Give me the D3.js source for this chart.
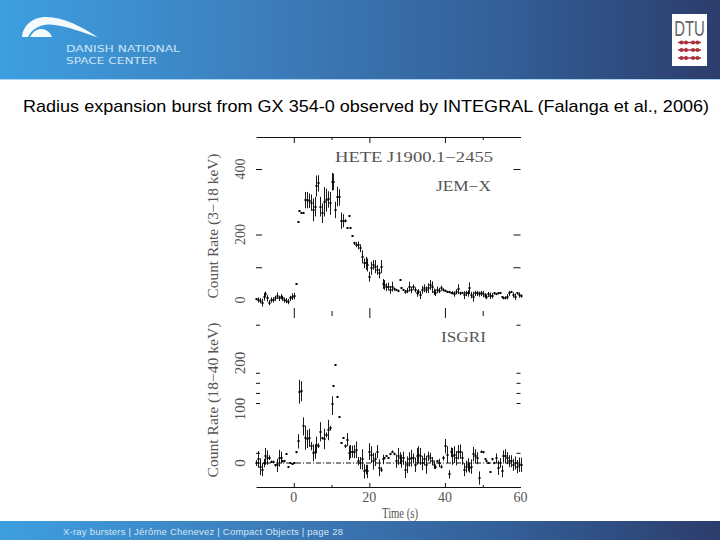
<!DOCTYPE html>
<html><head><meta charset="utf-8">
<script src="https://cdn.jsdelivr.net/npm/d3@7"></script>
<style>html,body{margin:0;padding:0;background:#fff}svg{display:block}</style>
</head><body><svg id="c" width="720" height="540"></svg>
<script>
const slideTitle = "Radius expansion burst from GX 354-0 observed by INTEGRAL (Falanga et al., 2006)";
const footerText = "X-ray bursters | Jérôme Chenevez | Compact Objects | page 28";
const logoLines = ["DANISH NATIONAL", "SPACE CENTER"];
const timeBins = [-10,-9.5,-9,-8.5,-8,-7.5,-7,-6.5,-6,-5.5,-5,-4.5,-4,-3.5,-3,-2.5,-2,-1.5,-1,-0.5,0,
0.5,1,1.5,2,2.5,3,3.5,4,4.5,5,5.5,6,6.5,7,7.5,8,8.5,9,9.5,10,10.5,11,11.5,12,12.5,13,13.5,14,14.5,15,15.5,16,16.5,17,17.5,18,18.5,19,19.5,20,
20.5,21,21.5,22,22.5,23,23.5,24,24.5,25,25.5,26,26.5,27,27.5,28,28.5,29,29.5,30,30.5,31,31.5,32,32.5,33,33.5,34,34.5,35,35.5,36,36.5,37,37.5,38,38.5,39,39.5,40,
40.5,41,41.5,42,42.5,43,43.5,44,44.5,45,45.5,46,46.5,47,47.5,48,48.5,49,49.5,50,50.5,51,51.5,52,52.5,53,53.5,54,54.5,55,55.5,56,56.5,57,57.5,58,58.5,59,59.5,60];
const jemxCounts = [2,0,-2,-8,10,18,5,-8,0,0,5,13,5,10,5,0,-2,-5,5,10,12,
49,239,272,267,267,305,305,303,297,275,285,348,356,285,265,300,305,307,295,361,361,275,316,313,242,242,242,219,255,219,195,173,169,167,158,132,112,112,107,71,
97,107,102,92,81,102,49,46,39,41,31,41,33,31,29,61,36,31,25,29,41,31,39,31,20,25,15,31,36,31,36,46,39,25,22,31,29,36,31,29,
25,23,20,22,18,25,33,20,22,15,20,20,36,15,10,20,20,18,20,18,13,10,17,13,13,20,18,20,22,10,5,7,10,20,25,15,10,20,15,12];
const jemxErrors = [3,8,8,12,12,8,10,8,8,8,8,10,8,8,8,8,8,8,8,10,10,
2,2,2,2,2,25,25,22,25,35,30,32,25,30,30,45,35,25,35,27,25,25,30,25,25,20,5,2,2,2,2,5,8,12,12,20,15,20,20,15,
20,15,20,15,15,20,15,15,12,12,12,15,5,3,3,1,3,3,6,8,15,10,8,8,10,8,12,12,12,10,15,15,18,10,10,10,8,8,5,3,
3,2,2,5,8,8,15,5,3,12,8,10,18,10,15,8,8,8,8,10,8,8,8,10,8,4,3,3,2,2,3,5,8,8,3,8,10,4,8,5];
const isgriCounts = [0,6,-6,-11,0,11,9,9,2,2,-4,-4,8,9,3,3,15,-7,0,-1,0,
18,36,127,128,61,42,40,42,28,17,19,30,29,52,41,40,47,55,58,98,141,190,115,77,33,41,28,39,17,19,19,19,22,3,0,6,-14,-11,-14,19,
14,3,6,19,-8,-11,6,9,11,9,15,19,15,3,11,8,3,8,-11,-3,6,8,8,-3,11,14,11,0,6,-3,11,9,3,-3,-7,3,0,-6,8,28,
14,-19,18,11,14,8,18,19,8,-11,-6,-3,-8,-6,15,11,8,-25,19,18,6,4,0,-15,6,0,8,-8,0,-14,11,11,8,3,3,-3,0,-6,-3,-3];
const isgriErrors = [5,14,14,11,7,14,12,4,2,2,2,11,14,10,2,2,1,1,1,1,1,
2,12,28,24,15,20,15,15,7,14,12,14,4,16,2,17,4,17,4,18,2,2,2,1,1,1,3,11,12,11,10,11,14,7,10,17,12,8,11,14,
14,14,11,11,14,4,8,1,1,1,2,2,2,11,14,10,11,11,14,14,12,14,8,12,14,14,14,12,10,15,8,8,7,7,3,2,7,3,4,12,
14,7,8,14,14,12,12,12,11,11,10,11,8,12,12,12,10,11,2,2,1,1,1,1,2,2,8,12,8,10,10,12,10,10,10,10,11,11,12,12];
const xMajor = [0,20,40];
const xMinor = [10,50];
const xLabels = [0,20,40,60];
const jemxMajor = [100,200,400];
const jemxLabels = [0,200,400];
const isgriTicks = [17,100,124,148,172,293];
const isgriLabels = [0,100,200];

const svg = d3.select("#c");
const defs = svg.append("defs");
const grad = defs.append("linearGradient").attr("id","band").attr("gradientUnits","userSpaceOnUse")
  .attr("x1",0).attr("x2",720).attr("y1",0).attr("y2",0);
[["0","#3d9fe0"],["0.35","#3d7fbd"],["0.7","#335f98"],["1","#2c3d6c"]]
  .forEach(s=>grad.append("stop").attr("offset",s[0]).attr("stop-color",s[1]));

svg.append("rect").attr("width",720).attr("height",79).attr("fill","url(#band)");
svg.append("rect").attr("y",79).attr("width",720).attr("height",1).attr("fill","#a9d3f0");
svg.append("rect").attr("y",521).attr("width",720).attr("height",19).attr("fill","url(#band)");

svg.append("path").attr("fill","#f4f9fd")
  .attr("d","M22,37 C23,26 32,17 46,17 C64,17 82,27 98,37.5 C84,33 68,26 50,24.5 C40,24 32,29 28,37 Z");
svg.append("path").attr("fill","#f4f9fd").attr("d","M30,37 C33,31 38,29 41,29 C46,29 50,32 52,37 Z");
logoLines.forEach((t,i)=>svg.append("text").attr("x",66).attr("y",[52,64][i])
  .attr("textLength",[114,91][i]).attr("lengthAdjust","spacingAndGlyphs")
  .attr("font-family","DejaVu Sans").attr("font-size",9.5).attr("fill","#cde4f6").text(t));

svg.append("rect").attr("x",672).attr("y",14).attr("width",35).attr("height",52).attr("fill","#fff");
svg.append("text").attr("transform","translate(689.5,36) scale(0.68,1)").attr("text-anchor","middle")
  .attr("font-family","Liberation Sans").attr("font-size",22).attr("fill","#666").text("DTU");
[42.5,50,58].forEach(y=>{
  svg.append("line").attr("x1",678).attr("x2",701).attr("y1",y).attr("y2",y).attr("stroke","#a8323c").attr("stroke-width",1.5);
  [681.5,686,693,697.5].forEach(x=>svg.append("circle").attr("cx",x).attr("cy",y).attr("r",2.1).attr("fill","#a8323c"));
});

svg.append("text").attr("x",366).attr("y",112).attr("text-anchor","middle")
  .attr("font-family","Liberation Sans").attr("font-size",17).attr("textLength",686)
  .attr("lengthAdjust","spacingAndGlyphs").attr("fill","#000").text(slideTitle);
svg.append("text").attr("x",63).attr("y",535).attr("font-family","Liberation Sans").attr("font-size",9.5)
  .attr("textLength",280).attr("fill","#d4e6f5").text(footerText);

const x = d3.scaleLinear().domain([-10,60]).range([256,520.5]);
const yTop = d3.scaleLinear().domain([0,400]).range([300,169]);
const yBot = d3.scaleLinear().domain([0,100,200,300]).range([463,403,361,322]);

const ink = "#111";
function ticks(axis, y, size, vals){
  const g = svg.append("g").attr("transform",`translate(0,${y})`)
    .call(axis(x).tickValues(vals).tickSize(size).tickSizeOuter(0).tickFormat(""));
  g.select(".domain").remove();
  g.selectAll("line").attr("stroke",ink);
}
svg.append("g").attr("transform","translate(0,137)").call(d3.axisBottom(x).tickValues(xMajor).tickSize(6).tickSizeOuter(0).tickFormat(""))
  .call(g=>g.selectAll("line,path").attr("stroke",ink));
ticks(d3.axisBottom,137,3,xMinor);
ticks(d3.axisTop,318,10,xMajor);
ticks(d3.axisTop,316,5,xMinor);
svg.append("g").attr("transform","translate(0,487)").call(d3.axisTop(x).tickValues(xMajor).tickSize(4).tickSizeOuter(0).tickFormat(""))
  .call(g=>g.selectAll("line,path").attr("stroke",ink));
ticks(d3.axisTop,487,2,xMinor);

function yTicks(scale, vals, l, r){
  [[d3.axisRight,256,l],[d3.axisLeft,520.5,r]].forEach(([a,px,s])=>{
    const g = svg.append("g").attr("transform",`translate(${px},0)`)
      .call(a(scale).tickValues(vals).tickSize(s).tickSizeOuter(0).tickFormat(""));
    g.select(".domain").remove();
    g.selectAll("line").attr("stroke",ink);
  });
}
yTicks(yTop,jemxMajor,6,7);
yTicks(yBot,isgriTicks,4,4);

svg.append("line").attr("x1",x(-10)).attr("x2",x(60)).attr("y1",yBot(0)).attr("y2",yBot(0))
  .attr("stroke",ink).attr("stroke-dasharray","5 2 1 2");

const snap = v => Math.round(v)+0.5;
function series(yScale, vals, errs){
  const d = timeBins.map((t,i)=>({t,v:vals[i],e:errs[i]}));
  const g = svg.append("g");
  g.selectAll("line").data(d).join("line")
    .attr("x1",p=>snap(x(p.t))).attr("x2",p=>snap(x(p.t)))
    .attr("y1",p=>yScale(p.v-p.e)).attr("y2",p=>yScale(p.v+p.e))
    .attr("stroke","#000").attr("stroke-width",0.9);
  g.selectAll("rect").data(d).join("rect")
    .attr("x",p=>snap(x(p.t))-1).attr("y",p=>Math.round(yScale(p.v))-1).attr("width",2).attr("height",2).attr("fill","#000");
}
series(yTop,jemxCounts,jemxErrors);
series(yBot,isgriCounts,isgriErrors);

const serif = "Liberation Serif";
const grey = "#555";
function rot(t,px,py,len){
  svg.append("text").attr("transform",`translate(${px},${py}) rotate(-90)`).attr("text-anchor","middle")
    .attr("font-family",serif).attr("font-size",14).attr("fill",grey)
    .attr("textLength",len).attr("lengthAdjust","spacingAndGlyphs").text(t);
}
rot("Count Rate (3−18 keV)",218,226,145);
rot("Count Rate (18−40 keV)",218,400,155);
jemxLabels.forEach(v=>rot(v,245,yTop(v),String(v).length*7));
isgriLabels.forEach(v=>rot(v,245,yBot(v)+(v==100?6:v==200?2:0),String(v).length*7.5));
xLabels.forEach(v=>svg.append("text").attr("x",x(v)).attr("y",502).attr("text-anchor","middle")
  .attr("font-family",serif).attr("font-size",14).attr("fill",grey).text(v));
function lab(t,px,py,w,s){
  svg.append("text").attr("x",px).attr("y",py).attr("textLength",w).attr("lengthAdjust","spacingAndGlyphs")
    .attr("font-family",serif).attr("font-size",s).attr("fill",grey).text(t);
}
lab("Time (s)",382,518,36,14);
lab("HETE J1900.1−2455",335,162,158,14);
lab("JEM−X",436,191,55,14);
lab("ISGRI",441,342,45,14);
</script></body></html>
